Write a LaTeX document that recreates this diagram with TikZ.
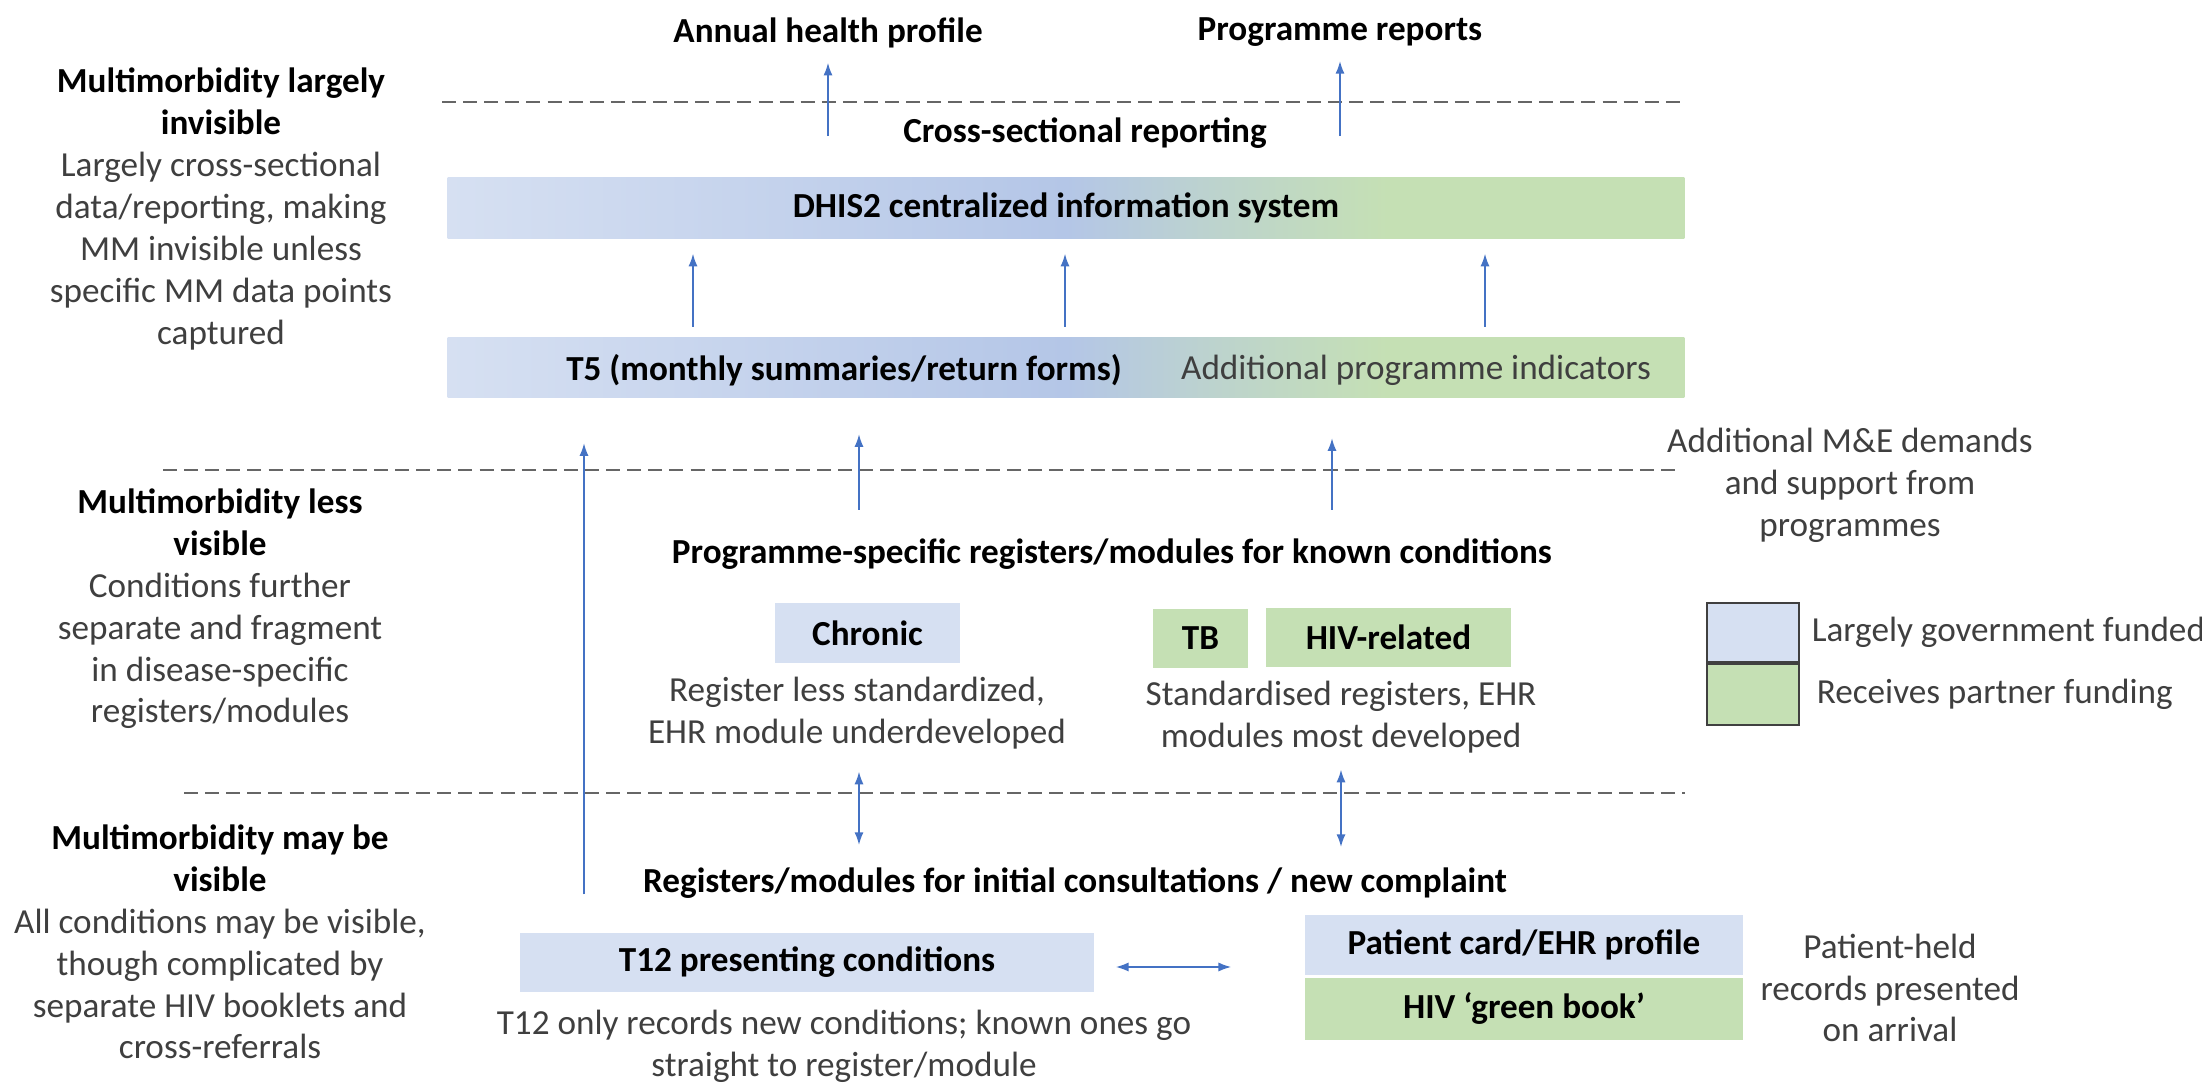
\documentclass[tikz,border=0pt]{standalone}
\usepackage{fontspec}
\setmainfont{Carlito}
\usetikzlibrary{arrows.meta,positioning}
\definecolor{govblue}{HTML}{D6E0F2}
\definecolor{govmid}{HTML}{B4C6E7}
\definecolor{partgreen}{HTML}{C5E0B4}
\definecolor{arrblue}{HTML}{4472C4}
\definecolor{dashgray}{HTML}{666666}
\definecolor{txtgray}{HTML}{3F3F3F}
\definecolor{leggray}{HTML}{404040}
\pgfdeclarehorizontalshading{fundshade}{100bp}{color(0bp)=(govblue); color(25bp)=(govblue); color(50bp)=(govmid); color(56bp)=(govmid!50!partgreen); color(63bp)=(partgreen); color(100bp)=(partgreen)}
\newcommand{\lvlhead}[1]{\textcolor{black}{\bfseries #1}}

\tikzset{
  flow/.style={-{Latex[length=3.6pt,width=2.6pt]}, arrblue, line width=0.45pt},
  twoway/.style={{Latex[length=3.6pt,width=2.6pt]}-{Latex[length=3.6pt,width=2.6pt]}, arrblue, line width=0.45pt},
  divider/.style={dashgray, line width=0.7pt, dash pattern=on 4pt off 2pt},
  head/.style={font=\fontsize{10}{11.9}\selectfont\bfseries},
  note/.style={font=\fontsize{10}{11.9}\selectfont, text=txtgray, align=center},
  bar/.style={shade, shading=fundshade, minimum width=12.36cm, minimum height=0.6cm, head},
  govbox/.style={fill=govblue, head},
  partbox/.style={fill=partgreen, head},
  legbox/.style={draw=leggray, line width=0.6pt, minimum width=0.92cm},
}

\begin{document}
\begin{tikzpicture}[x=0.01cm, y=-0.01cm, inner sep=0pt]
%%%%% START %%%%%
\useasboundingbox (0,0) rectangle (2202,1083);

% level texts on the left
\node[note] (lvltop) at (221,209) {\lvlhead{Multimorbidity largely}\\\lvlhead{invisible}\\Largely cross-sectional\\data/reporting, making\\MM invisible unless\\specific MM data points\\captured};
\node[note] (lvlmid) at (220,609) {\lvlhead{Multimorbidity less}\\\lvlhead{visible}\\Conditions further\\separate and fragment\\in disease-specific\\registers/modules};
\node[note] (lvllow) at (220,942) {\lvlhead{Multimorbidity may be}\\\lvlhead{visible}\\All conditions may be visible,\\though complicated by\\separate HIV booklets and\\cross-referrals};

% dashed level borders
\draw[divider] (442,102) -- (1683,102);
\draw[divider] (163,470) -- (1681,470);
\draw[divider] (184,793) -- (1685,793);

% reporting
\node[head] (annual) at (828,33) {Annual health profile};
\node[head] (progrep) at (1340,32) {Programme reports};
\node[head] (crossrep) at (1085,133) {Cross-sectional reporting};
\node[bar] (dhis) at (1066,208) {DHIS2 centralized information system};
\node[bar] (t5) at (1066,367.5) {};
\node[head] (t5main) at (844,370) {T5 (monthly summaries/return forms)};
\node[note] (t5extra) at (1416,370) {Additional programme indicators};

% programme registers
\node[head] (progspec) at (1112,554) {Programme-specific registers/modules for known conditions};
\node[govbox, minimum width=1.85cm, minimum height=0.6cm] (chronic) at (867.5,633) {Chronic};
\node[note] (chronote) at (857,713) {Register less standardized,\\EHR module underdeveloped};
\node[partbox, minimum width=0.95cm, minimum height=0.59cm] (tb) at (1200.5,638.5) {TB};
\node[partbox, minimum width=2.45cm, minimum height=0.59cm] (hiv) at (1388.5,637.5) {HIV-related};
\node[note] (stdnote) at (1341,717) {Standardised registers, EHR\\modules most developed};
\node[note] (medemand) at (1850,485) {Additional M\&E demands\\and support from\\programmes};

% legend
\node[legbox, fill=govblue, minimum height=0.59cm] (leggov) at (1753,632.5) {};
\node[legbox, fill=partgreen, minimum height=0.61cm, anchor=north] (legpart) at (leggov.south) {};
\node[note, anchor=west, right=0.11cm of leggov] (leggovtxt) {Largely government funded};
\node[note, anchor=west, right=0.16cm of legpart] (legparttxt) {Receives partner funding};

% initial consultation
\node[head] (initreg) at (1075,883) {Registers/modules for initial consultations / new complaint};
\node[govbox, minimum width=5.74cm, minimum height=0.59cm] (t12) at (807,962.5) {T12 presenting conditions};
\node[note] (t12note) at (844,1046) {T12 only records new conditions; known ones go\\straight to register/module};
\node[govbox, minimum width=4.38cm, minimum height=0.6cm] (card) at (1524,945) {Patient card/EHR profile};
\node[partbox, minimum width=4.38cm, minimum height=0.62cm] (green) at (1524,1009) {HIV ‘green book’};
\node[note] (held) at (1890,988) {Patient-held\\records presented\\on arrival};

% arrows
\path (693,0) coordinate (x1) (1065,0) coordinate (x2) (1485,0) coordinate (x3)
      (584,0) coordinate (lx) (859,0) coordinate (px1) (1332,0) coordinate (px2)
      (1341,0) coordinate (dx2);
\draw[flow, shorten <=0.41cm, shorten >=0.14cm] (dhis.north -| annual) -- (annual.south);
\draw[flow, shorten <=0.41cm, shorten >=0.14cm] (dhis.north -| progrep) -- (progrep.south);
\foreach \c in {x1,x2,x3}
  \draw[flow, shorten <=0.10cm, shorten >=0.15cm] (t5.north -| \c) -- (dhis.south -| \c);
\draw[flow, shorten <=0.38cm, shorten >=0.45cm] (t12.north -| lx) -- (t5.south -| lx);
\draw[flow, shorten <=0.28cm, shorten >=0.36cm] (progspec.north -| px1) -- (t5.south -| px1);
\draw[flow, shorten <=0.28cm, shorten >=0.40cm] (progspec.north -| px2) -- (t5.south -| px2);
\draw[twoway, shorten <=0.22cm, shorten >=0.22cm] (chronote.south -| px1) -- (initreg.north -| px1);
\draw[twoway, shorten <=0.16cm, shorten >=0.20cm] (stdnote.south -| dx2) -- (initreg.north -| dx2);
\draw[twoway, shorten <=0.21cm, shorten >=0.73cm] ([yshift=-0.045cm]t12.east) -- ([yshift=-0.045cm]t12.east -| card.west);
%%%%% END %%%%%
\end{tikzpicture}
\end{document}
